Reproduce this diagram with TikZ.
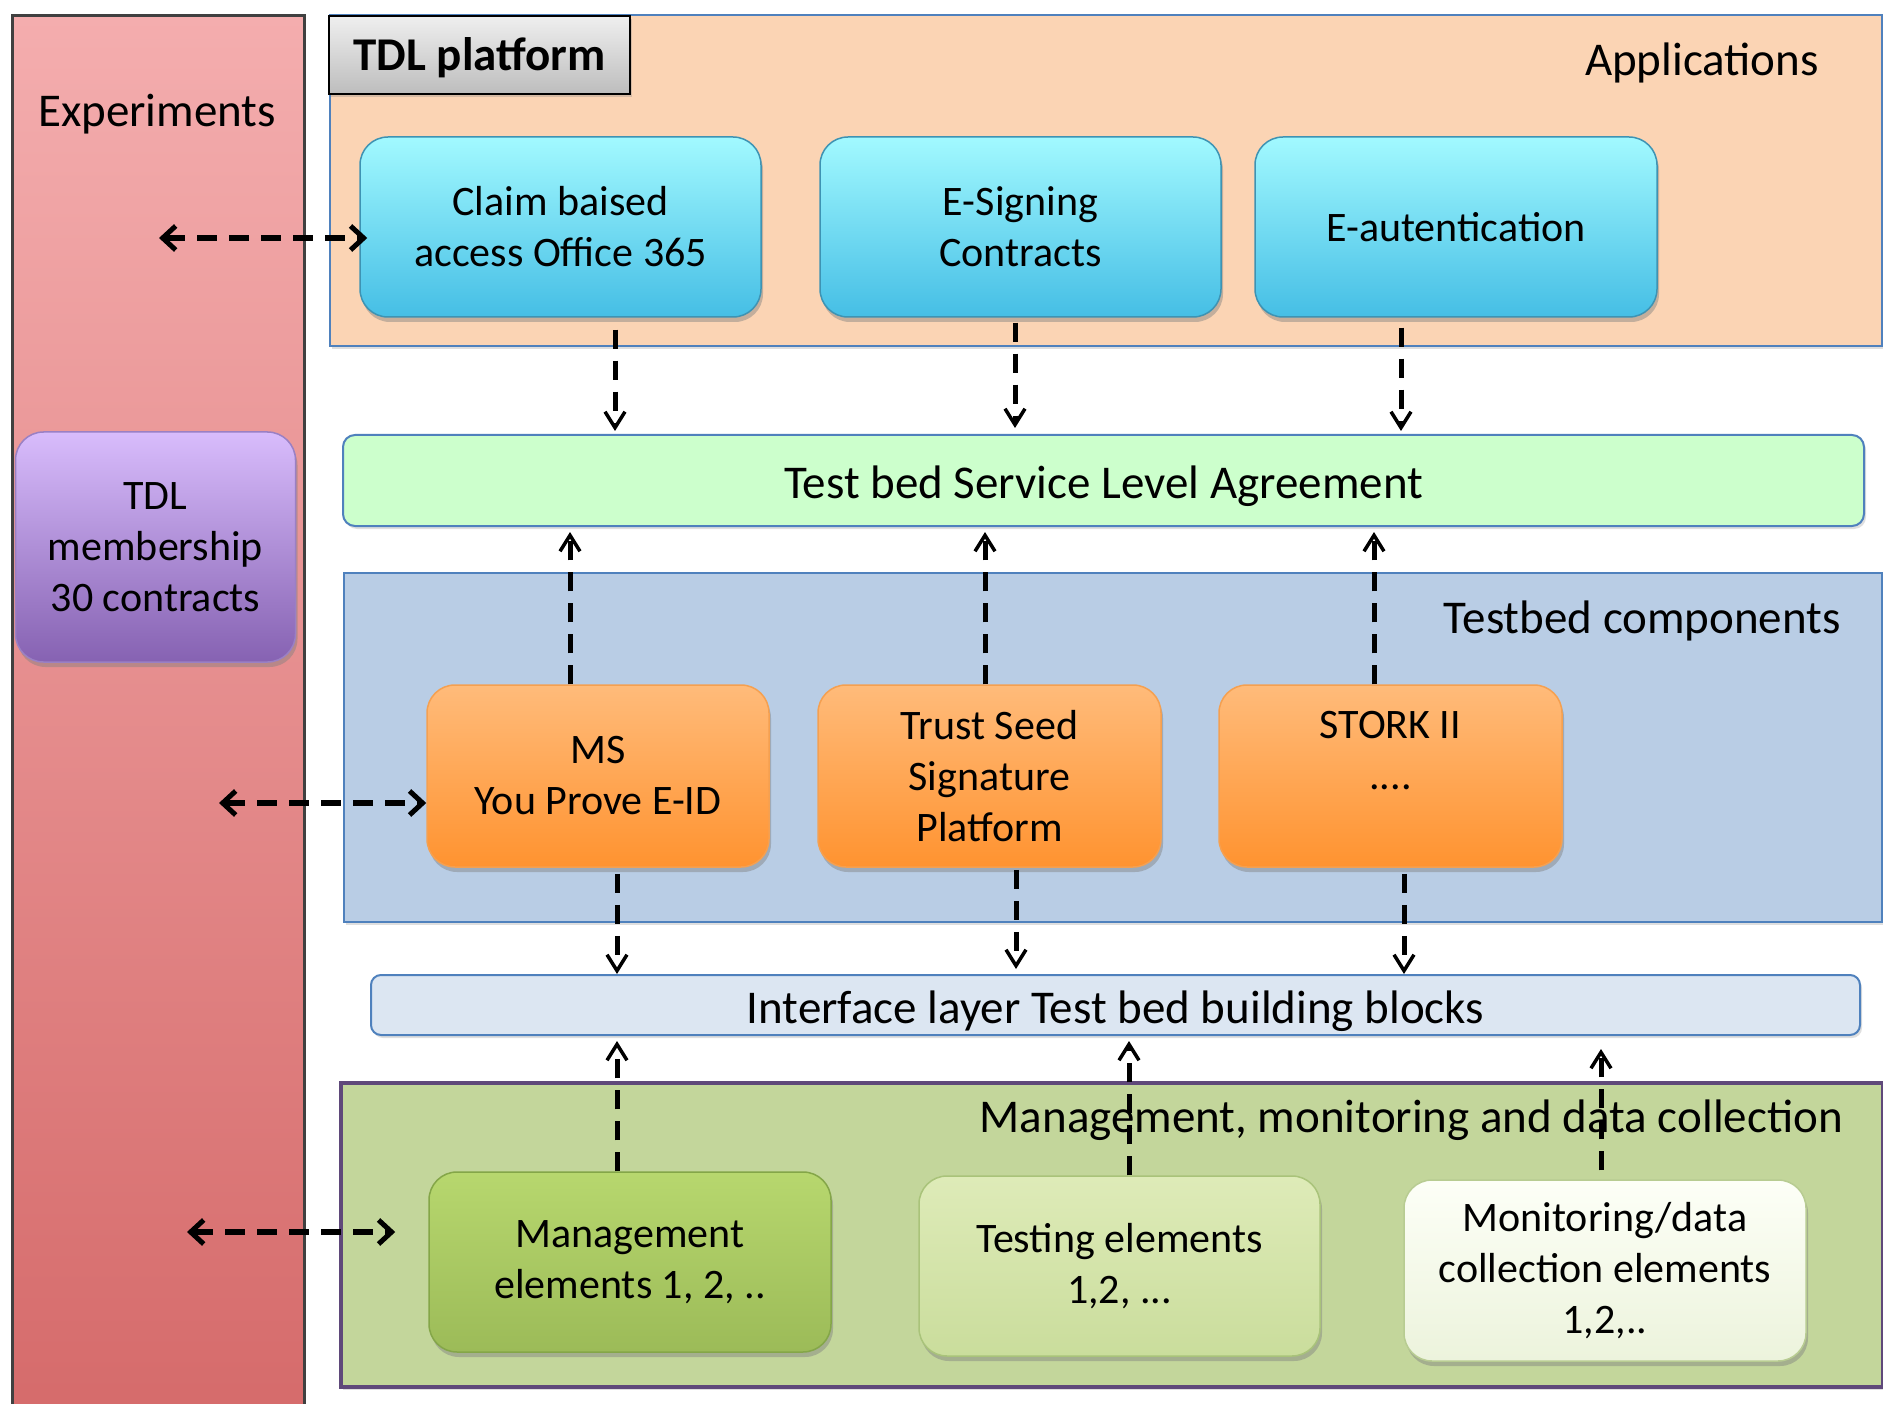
\documentclass[tikz,border=0pt]{standalone}
\usepackage{fontspec}
\setmainfont{Carlito}
\usetikzlibrary{arrows.meta,shadows}
\definecolor{expTop}{HTML}{F4ADAE}
\definecolor{expBot}{HTML}{D56A6A}
\definecolor{appFill}{HTML}{FBD4B4}
\definecolor{panelBlue}{HTML}{4F81BD}
\definecolor{tbFill}{HTML}{B9CDE5}
\definecolor{mgFill}{HTML}{C3D69B}
\definecolor{mgBorder}{HTML}{5F497A}
\definecolor{slaFill}{HTML}{CCFFCC}
\definecolor{ifFill}{HTML}{DCE6F2}
\definecolor{cyTop}{HTML}{A2F9FF}
\definecolor{cyBot}{HTML}{45BEE5}
\definecolor{cyLine}{HTML}{3E93B3}
\definecolor{orTop}{HTML}{FFBB7A}
\definecolor{orBot}{HTML}{FF9330}
\definecolor{orLine}{HTML}{F5A050}
\definecolor{puTop}{HTML}{D8BCFC}
\definecolor{puBot}{HTML}{8662B2}
\definecolor{puLine}{HTML}{9A80C4}
\definecolor{g1Top}{HTML}{B7D76E}
\definecolor{g1Bot}{HTML}{9CBB58}
\definecolor{g1Line}{HTML}{84A648}
\definecolor{g2Top}{HTML}{DEEBB8}
\definecolor{g2Bot}{HTML}{CADD9C}
\definecolor{g2Line}{HTML}{A9C37A}
\definecolor{g3Top}{HTML}{FDFFF7}
\definecolor{g3Bot}{HTML}{ECF3DC}
\definecolor{g3Line}{HTML}{B8CC92}
\definecolor{tagTop}{HTML}{EFEFEF}
\definecolor{tagBot}{HTML}{BDBDBD}
\begin{document}
\begin{tikzpicture}[x=1pt,y=-1pt,
  lbl/.style={font=\fontsize{47}{56}\selectfont, inner sep=0pt},
  panel/.style={draw=panelBlue, line width=2pt, inner sep=0pt, anchor=north west,
    drop shadow={shadow xshift=2pt,shadow yshift=-3pt,opacity=0.25}},
  bar/.style={draw=panelBlue, line width=2pt, rounded corners=12pt, inner sep=0pt,
    font=\fontsize{47}{56}\selectfont, text height=40pt, text depth=4pt,
    drop shadow={shadow xshift=2pt,shadow yshift=-3pt,opacity=0.25}},
  rbox/.style={rounded corners=28pt, inner sep=0pt, align=center,
    font=\fontsize{42}{51}\selectfont, line width=1.5pt,
    minimum width=401pt, minimum height=180pt,
    drop shadow={shadow xshift=2pt,shadow yshift=-5pt,opacity=0.45}},
  cybox/.style={rbox, draw=cyLine, top color=cyTop, bottom color=cyBot},
  orbox/.style={rbox, draw=orLine, top color=orTop, bottom color=orBot, minimum width=342pt, minimum height=182pt},
  darr/.style={line width=5pt, dash pattern=on 19pt off 12pt,
    -{Straight Barb[length=16pt,width=20pt,line width=3.5pt]}},
  harr/.style={line width=5.5pt, dash pattern=on 20pt off 12pt,
    {Straight Barb[length=13pt,width=24pt,line width=5pt]}-{Straight Barb[length=13pt,width=24pt,line width=5pt]}}
]
\useasboundingbox (0,0) rectangle (1883,1404);
\fill[white] (0,0) rectangle (1883,1404);

% Experiments column
\node[draw=black!75, line width=3pt, top color=expTop, bottom color=expBot,
  anchor=north west, minimum width=292pt, minimum height=1420pt, inner sep=0pt] (expcol) at (11,14) {};
\node[lbl, anchor=base] (explbl) at (157,127) {Experiments};

% panels
\node[panel, fill=appFill, minimum width=1552pt, minimum height=331pt] (apps) at (329,14) {};
\node[panel, fill=tbFill, minimum width=1538pt, minimum height=349pt] (tbc) at (343,572) {};
\node[panel, draw=mgBorder, line width=4pt, fill=mgFill, minimum width=1542pt, minimum height=304pt] (mgp) at (339,1081) {};

% panel labels
\node[lbl, anchor=base east] (applbl) at (1819,76) {Applications};
\node[lbl, anchor=base east] (tbclbl) at (1841,633) {Testbed components};
\node[lbl, anchor=base east] (mgplbl) at (1843,1132) {Management, monitoring and data collection};

% TDL platform tag
\node[draw=black, line width=2.5pt, top color=tagTop, bottom color=tagBot,
  minimum width=301pt, minimum height=78pt, inner sep=0pt,
  font=\fontsize{47}{56}\selectfont\bfseries, text height=38pt, text depth=6pt,
  drop shadow={shadow xshift=2pt,shadow yshift=-3pt,opacity=0.3}] (tag) at (479.5,55) {TDL platform};

% bars
\node[bar, fill=slaFill, minimum width=1521pt, minimum height=91pt] (sla) at (1103.5,480.5) {Test bed Service Level Agreement};
\node[bar, fill=ifFill, minimum width=1489pt, minimum height=60pt, rounded corners=10pt] (iface) at (1115.5,1005) {Interface layer Test bed building blocks};

% application boxes
\node[cybox] (claim) at (560.5,227) {Claim baised\\access Office 365};
\node[cybox] (esign) at (1020.5,227) {E-Signing\\Contracts};
\node[cybox, minimum width=402pt] (eauth) at (1456,227) {E-autentication};

% TDL membership
\node[rbox, draw=puLine, top color=puTop, bottom color=puBot, minimum width=280pt, minimum height=230pt] (tdlm) at (155.5,547) {TDL\\membership\\30 contracts};

% testbed components
\node[orbox] (ms) at (598,776) {MS\\You Prove E-ID};
\node[orbox, minimum width=343pt] (trust) at (989.5,776) {Trust Seed\\Signature\\Platform};
\node[orbox, minimum width=343pt] (stork) at (1390.5,776) {STORK II\\....\\\mbox{}};

% management boxes
\node[rbox, draw=g1Line, top color=g1Top, bottom color=g1Bot, minimum width=402pt] (mgmt) at (630,1262) {Management\\elements 1, 2, ..};
\node[rbox, draw=g2Line, top color=g2Top, bottom color=g2Bot] (testing) at (1119.5,1266) {Testing elements\\1,2, ...};
\node[rbox, draw=g3Line, top color=g3Top, bottom color=g3Bot, minimum width=402pt, minimum height=181pt] (monit) at (1605,1270.5) {Monitoring/data\\collection elements\\1,2,..};

% vertical arrows: applications -> SLA
\coordinate (d1) at ([xshift=54.5pt,yshift=-12pt]claim.south);
\coordinate (d2) at ([xshift=-5.5pt,yshift=-5pt]esign.south);
\coordinate (d3) at ([xshift=-55pt,yshift=-10pt]eauth.south);
\draw[darr, shorten >=3pt] (d1) -- (d1 |- sla.north);
\draw[darr, shorten >=6pt] (d2) -- (d2 |- sla.north);
\draw[darr, shorten >=3pt] (d3) -- (d3 |- sla.north);

% vertical arrows: components -> SLA
\coordinate (u1) at ([xshift=-28pt]ms.north);
\coordinate (u2) at ([xshift=-4.5pt]trust.north);
\coordinate (u3) at ([xshift=-16.5pt]stork.north);
\draw[darr, shorten >=5pt] (u1) -- (u1 |- sla.south);
\draw[darr, shorten >=5pt] (u2) -- (u2 |- sla.south);
\draw[darr, shorten >=5pt] (u3) -- (u3 |- sla.south);

% vertical arrows: components -> interface
\coordinate (e1) at ([xshift=19pt,yshift=-6pt]ms.south);
\coordinate (e2) at ([xshift=26.5pt,yshift=-2pt]trust.south);
\coordinate (e3) at ([xshift=13.5pt,yshift=-6pt]stork.south);
\draw[darr] (e1) -- (e1 |- iface.north);
\draw[darr, shorten >=5pt] (e2) -- (e2 |- iface.north);
\draw[darr] (e3) -- (e3 |- iface.north);

% vertical arrows: management -> interface
\coordinate (g1) at ([xshift=-13pt]mgmt.north);
\coordinate (g2) at ([xshift=9.5pt]testing.north);
\coordinate (g3) at ([xshift=-4pt,yshift=9pt]monit.north);
\draw[darr, shorten >=5pt] (g1) -- (g1 |- iface.south);
\draw[darr, shorten >=5pt] (g2) -- (g2 |- iface.south);
\draw[darr, shorten >=13pt] (g3) -- (g3 |- iface.south);

% horizontal bidirectional arrows
\coordinate (h1l) at (159,238);
\coordinate (h2l) at (219,803);
\coordinate (h3l) at (187,1232);
\draw[harr, shorten >=-8pt] (h1l) -- (h1l -| claim.west);
\draw[harr] (h2l) -- (h2l -| ms.west);
\draw[harr, shorten >=33pt] (h3l) -- (h3l -| mgmt.west);
\end{tikzpicture}
\end{document}
